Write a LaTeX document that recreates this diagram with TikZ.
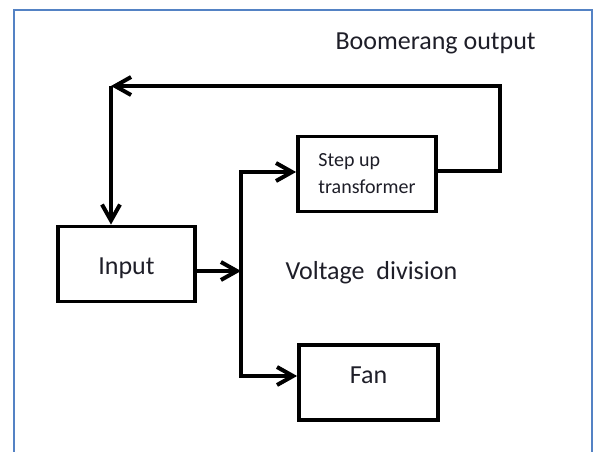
\documentclass[tikz,border=0pt]{standalone}
\usepackage{fontspec}
\setmainfont{Carlito}
\usetikzlibrary{arrows.meta}
\definecolor{frameblue}{RGB}{84,130,196}
\definecolor{txt}{RGB}{30,30,40}
\begin{document}
\begin{tikzpicture}[x=1pt,y=-1pt, every node/.style={text=txt,font=\fontsize{26}{32}\selectfont},
  box/.style={draw,line width=3.8pt,minimum width=137pt,minimum height=75pt,inner sep=0pt},
  arr/.style={line width=4pt,-{Straight Barb[length=16pt,width=18pt]}}]
\useasboundingbox (0,0) rectangle (597,452);
% frame
\draw[frameblue,line width=2pt] (14,455) -- (14,10) -- (592,10) -- (592,455);
\node[box,text height=21pt,text depth=0pt] (inp) at (126.5,264) {Input};
\node[box,align=left,font=\fontsize{20}{27}\selectfont,minimum width=138pt] (step) at (367,174) {Step up\\transformer};
\node[box,text depth=14pt,minimum width=139pt] (fan) at (368.5,382.5) {Fan};
\coordinate (bus) at (241,271);
\coordinate (loopR) at (500,86);
\coordinate (loopL) at (111,86);
\draw[arr] (inp.east |- bus) -- (bus);
\draw[arr] (bus) |- ([yshift=2pt]step.west);
\draw[arr] (bus) |- ([yshift=6.5pt]fan.west);
% boomerang loop
\draw[arr] ([yshift=3pt]step.east) -| (loopR) -- (loopL);
\draw[arr] (loopL) -- (loopL |- inp.north);
\node[anchor=base west] (boom) at (332,50) {Boomerang output};
\node[anchor=base west] (vdiv) at (282,279) {Voltage\ \ division};
\end{tikzpicture}
\end{document}
